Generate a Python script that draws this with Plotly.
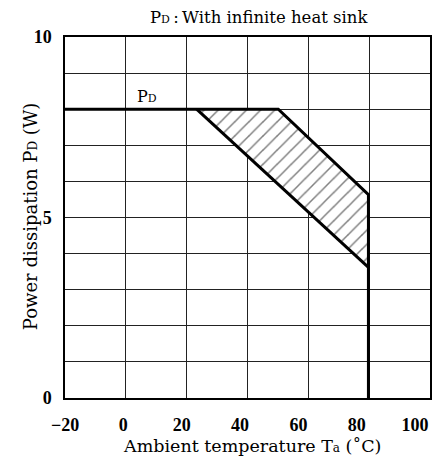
import plotly.graph_objects as go

# Data (temperature in °C, power in W)
pd_curve_t = [-20, 53.1, 84.0, 84.0]
pd_curve_p = [8.0, 8.0, 5.63, 0.0]
lower_t = [25.1, 84.0]
lower_p = [8.0, 3.62]
hatch_t = [25.1, 53.1, 84.0, 84.0, 25.1]
hatch_p = [8.0, 8.0, 5.63, 3.62, 8.0]
x_ticks = [-20, 0, 20, 40, 60, 80, 100]
y_ticks = [0, 5, 10]

FONT = "Liberation Serif"
TFONT = "DejaVu Serif"
XMAX = 105.1
L, R, T, B = 65, 432, 37, 398


def px(xp):
    return (xp - L) / (R - L)


def py(yp):
    return (B - yp) / (B - T)


fig = go.Figure()

fig.add_trace(go.Scatter(
    x=hatch_t, y=hatch_p, mode="lines", fill="toself",
    line=dict(width=0, color="rgba(0,0,0,0)"),
    fillcolor="white",
    fillpattern=dict(shape="/", size=10, solidity=0.15, fgcolor="black", bgcolor="white"),
    hoverinfo="skip", showlegend=False))
fig.add_trace(go.Scatter(x=pd_curve_t, y=pd_curve_p, mode="lines",
                         line=dict(color="black", width=3), showlegend=False))
fig.add_trace(go.Scatter(x=lower_t, y=lower_p, mode="lines",
                         line=dict(color="black", width=3), showlegend=False))
# invisible trace for grid axis
fig.add_trace(go.Scatter(x=[0, 6], y=[0, 10], xaxis="x2", mode="markers",
                         marker=dict(opacity=0), hoverinfo="skip", showlegend=False))

fig.update_layout(
    width=435, height=459,
    margin=dict(l=L, r=435 - R, t=T, b=459 - B),
    paper_bgcolor="white", plot_bgcolor="white",
    font=dict(family=TFONT, color="black", size=16),
    xaxis=dict(range=[-20, XMAX], tickvals=x_ticks,
               ticktext=[("\u221220" if v == -20 else str(v)) for v in x_ticks],
               tickfont=dict(family=FONT, size=18, weight="bold"),
               showgrid=False, zeroline=False,
               ticks="outside", ticklen=10, tickcolor="rgba(0,0,0,0)",
               showline=True, linecolor="black", linewidth=1.5, mirror=True),
    xaxis2=dict(range=[0, 6], dtick=1, overlaying="x", showticklabels=False,
                showgrid=True, gridcolor="#222", gridwidth=1, zeroline=False,
                showline=False),
    yaxis=dict(range=[0, 10], tickvals=list(range(11)),
               ticktext=[(str(v) if v in y_ticks else "") for v in range(11)],
               tickfont=dict(family=FONT, size=18, weight="bold"),
               showgrid=True, gridcolor="#222", gridwidth=1, zeroline=False,
               ticks="outside", ticklen=8, tickcolor="rgba(0,0,0,0)",
               showline=True, linecolor="black", linewidth=1.5, mirror=True),
    annotations=[
        dict(text="P<span style='font-size:11px'>D</span>", x=8, y=8.35,
             xref="x", yref="y", showarrow=False),
        dict(text="P<span style='font-size:11px'>D</span>\u2009:\u2009With infinite heat sink",
             x=px(260), y=py(17), xref="paper", yref="paper",
             xanchor="center", yanchor="middle", showarrow=False,
             font=dict(size=16.5)),
        dict(text="Ambient temperature T<span style='font-size:12px'>a</span> (\u02daC)",
             x=px(253), y=py(446), xref="paper", yref="paper",
             xanchor="center", yanchor="middle", showarrow=False,
             font=dict(size=17.5)),
        dict(text="Power dissipation P<span style='font-size:12px'>D</span> (W)",
             x=px(30), y=py(216), xref="paper", yref="paper",
             textangle=-90, xanchor="center", yanchor="middle",
             showarrow=False, font=dict(size=18)),
    ],
)

fig.write_html("out.html")
